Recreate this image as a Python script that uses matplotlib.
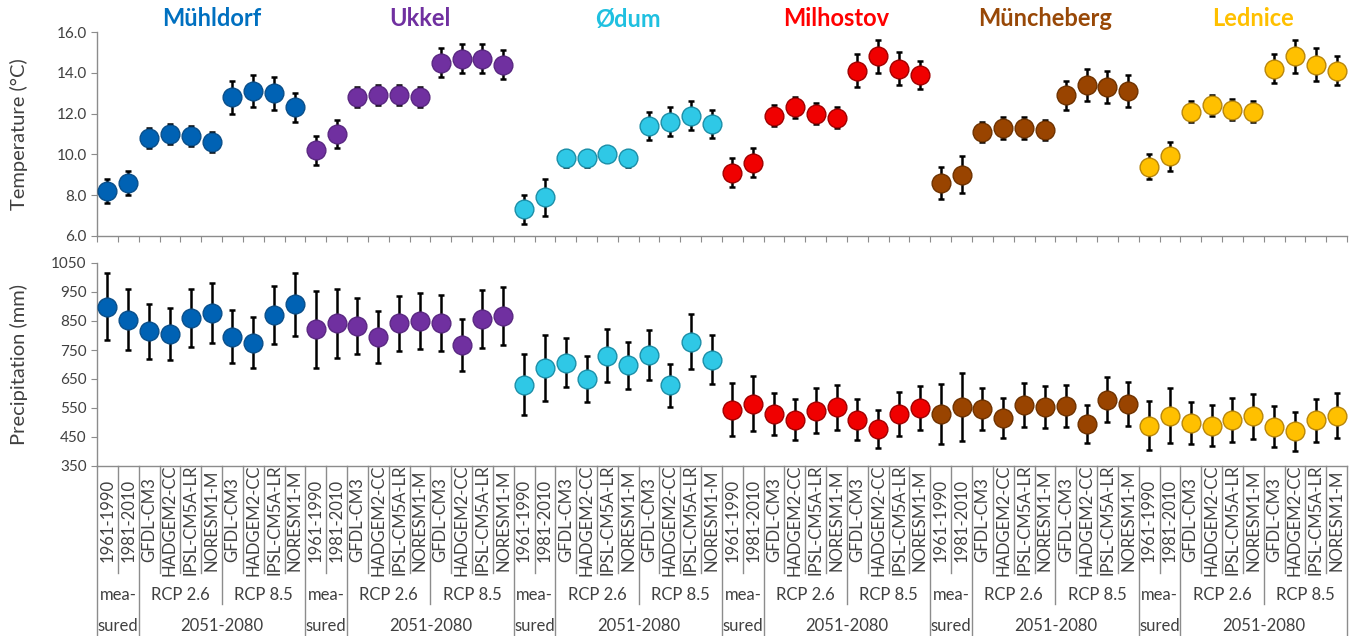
import numpy as np
import matplotlib
matplotlib.use('Agg')
import matplotlib.pyplot as plt
import matplotlib.transforms as mtransforms

plt.rcParams['font.family'] = ['Lato', 'DejaVu Sans']

sites = ['Mühldorf', 'Ukkel', 'Ødum', 'Milhostov', 'Müncheberg', 'Lednice']
periods = ['1961-1990', '1981-2010', 'GFDL-CM3', 'HADGEM2-CC', 'IPSL-CM5A-LR', 'NORESM1-M',
           'GFDL-CM3', 'HADGEM2-CC', 'IPSL-CM5A-LR', 'NORESM1-M']
level2 = ['mea-', 'RCP 2.6', 'RCP 8.5']
level2_pos = [0.5, 3.5, 7.5]
level3 = ['sured', '2051-2080']
level3_pos = [0.5, 5.5]

# temperature mean and sd (°C)
temp_muhldorf = [8.2, 8.6, 10.8, 11.0, 10.9, 10.6, 12.8, 13.1, 13.0, 12.3]
temp_ukkel = [10.2, 11.0, 12.8, 12.9, 12.9, 12.8, 14.5, 14.7, 14.7, 14.4]
temp_odum = [7.3, 7.9, 9.8, 9.8, 10.0, 9.8, 11.4, 11.6, 11.9, 11.5]
temp_milhostov = [9.1, 9.6, 11.9, 12.3, 12.0, 11.8, 14.1, 14.8, 14.2, 13.9]
temp_muncheberg = [8.6, 9.0, 11.1, 11.3, 11.3, 11.2, 12.9, 13.4, 13.3, 13.1]
temp_lednice = [9.4, 9.9, 12.1, 12.4, 12.2, 12.1, 14.2, 14.8, 14.4, 14.1]

tsd_muhldorf = [0.6, 0.6, 0.5, 0.5, 0.5, 0.5, 0.8, 0.8, 0.8, 0.7]
tsd_ukkel = [0.7, 0.7, 0.5, 0.5, 0.5, 0.5, 0.7, 0.7, 0.7, 0.7]
tsd_odum = [0.7, 0.9, 0.4, 0.4, 0.35, 0.4, 0.7, 0.7, 0.7, 0.7]
tsd_milhostov = [0.7, 0.7, 0.5, 0.5, 0.5, 0.5, 0.8, 0.8, 0.8, 0.7]
tsd_muncheberg = [0.8, 0.9, 0.5, 0.55, 0.55, 0.5, 0.7, 0.8, 0.8, 0.8]
tsd_lednice = [0.6, 0.7, 0.5, 0.5, 0.5, 0.5, 0.7, 0.8, 0.8, 0.7]

# precipitation mean and sd (mm)
prec_muhldorf = [900, 855, 815, 804, 859, 877, 796, 775, 871, 908]
prec_ukkel = [821, 842, 833, 796, 842, 850, 842, 767, 856, 867]
prec_odum = [631, 688, 706, 650, 731, 697, 733, 628, 779, 717]
prec_milhostov = [544, 565, 529, 510, 541, 552, 510, 477, 529, 550]
prec_muncheberg = [530, 553, 546, 515, 561, 553, 556, 496, 579, 565]
prec_lednice = [489, 523, 498, 489, 510, 521, 486, 469, 507, 524]

psd_muhldorf = [115, 105, 95, 90, 100, 103, 92, 88, 100, 108]
psd_ukkel = [133, 120, 98, 90, 95, 98, 97, 90, 100, 100]
psd_odum = [105, 114, 84, 78, 90, 82, 86, 74, 95, 85]
psd_milhostov = [92, 95, 72, 70, 78, 78, 70, 65, 75, 76]
psd_muncheberg = [103, 117, 73, 70, 75, 73, 72, 65, 77, 76]
psd_lednice = [84, 95, 73, 70, 76, 77, 71, 68, 73, 78]

temps = [temp_muhldorf, temp_ukkel, temp_odum, temp_milhostov, temp_muncheberg, temp_lednice]
tsds = [tsd_muhldorf, tsd_ukkel, tsd_odum, tsd_milhostov, tsd_muncheberg, tsd_lednice]
precs = [prec_muhldorf, prec_ukkel, prec_odum, prec_milhostov, prec_muncheberg, prec_lednice]
psds = [psd_muhldorf, psd_ukkel, psd_odum, psd_milhostov, psd_muncheberg, psd_lednice]

fill_colors = ['#0062B4', '#7030A0', '#2FC8E6', '#F00000', '#994400', '#FFC000']
edge_colors = ['#0A4F8A', '#5A2882', '#1C8FA8', '#A00000', '#6E3200', '#B8860B']
title_colors = ['#0070C0', '#7030A0', '#1FC0E0', '#FF0000', '#984807', '#FFC000']

grey = '#8C8C8C'
txt = '#404040'

W, H = 1351, 636
fig = plt.figure(figsize=(W / 100, H / 100), dpi=100)
ax1 = fig.add_axes([97 / W, 1 - 236 / H, 1250 / W, 204 / H])
ax2 = fig.add_axes([97 / W, 1 - 466 / H, 1250 / W, 203 / H])

# x in data units, y in figure fraction
trans1 = mtransforms.blended_transform_factory(ax1.transData, fig.transFigure)
trans = mtransforms.blended_transform_factory(ax2.transData, fig.transFigure)

n = len(periods)
for k in range(len(sites)):
    x = np.arange(n) + k * n
    for ax, m, s in [(ax1, temps[k], tsds[k]), (ax2, precs[k], psds[k])]:
        ax.errorbar(x, m, yerr=s, fmt='none', ecolor='black', elinewidth=1.8,
                    capsize=2.5, capthick=1.8, zorder=2)
        ax.plot(x, m, 'o', ms=13.5, mfc=fill_colors[k], mec=edge_colors[k], mew=1, zorder=3)
    ax1.text(k * n + 5.0, 1 - 19 / H, sites[k], color=title_colors[k], fontsize=17,
             fontweight='bold', ha='center', va='center', transform=trans1)

total = n * len(sites)
for ax in (ax1, ax2):
    ax.set_xlim(-0.5, total - 0.5)
    for sp in ['top', 'right']:
        ax.spines[sp].set_visible(False)
    for sp in ['left', 'bottom']:
        ax.spines[sp].set_color(grey)
        ax.spines[sp].set_linewidth(1)
    ax.tick_params(axis='y', length=4, color=grey, labelsize=11, labelcolor=txt)

ax1.set_ylim(6, 16)
ax1.set_yticks(np.arange(6, 16.1, 2))
ax1.set_yticklabels([f'{v:.1f}' for v in np.arange(6, 16.1, 2)])
ax1.set_xticks(np.arange(-0.5, total, 1))
ax1.tick_params(axis='x', length=4, color=grey, labelbottom=False)
ax1.set_ylabel('Temperature (°C)', fontsize=14.5, color=txt)

ax2.set_ylim(350, 1050)
ax2.set_yticks(np.arange(350, 1051, 100))
ax2.set_xticks([])
ax2.set_ylabel('Precipitation (mm)', fontsize=14.5, color=txt)
ax1.yaxis.set_label_coords(-0.055, 0.5)
ax2.yaxis.set_label_coords(-0.055, 0.5)

# multi-level category axis below the lower panel
y_top = 1 - 466 / H
y_l1 = 1 - 573 / H
y_l2 = 1 - 604 / H
for i in range(total + 1):
    j = i % n
    if j in (0, 2):
        y0 = 0
    elif j == 6:
        y0 = y_l2
    else:
        y0 = y_l1
    ax2.plot([i - 0.5, i - 0.5], [y_top, y0], color=grey, lw=1, transform=trans, clip_on=False)

for k in range(len(sites)):
    for j, lab in enumerate(periods):
        ax2.text(k * n + j, 1 - 520 / H, lab, rotation=90, fontsize=12, color=txt,
                 ha='center', va='center', transform=trans)
    for lab, p in zip(level2, level2_pos):
        ax2.text(k * n + p, 1 - 595 / H, lab, fontsize=12, color=txt,
                 ha='center', va='center', transform=trans)
    for lab, p in zip(level3, level3_pos):
        ax2.text(k * n + p, 1 - 626 / H, lab, fontsize=12, color=txt,
                 ha='center', va='center', transform=trans)

fig.savefig('out.png', dpi=100)
